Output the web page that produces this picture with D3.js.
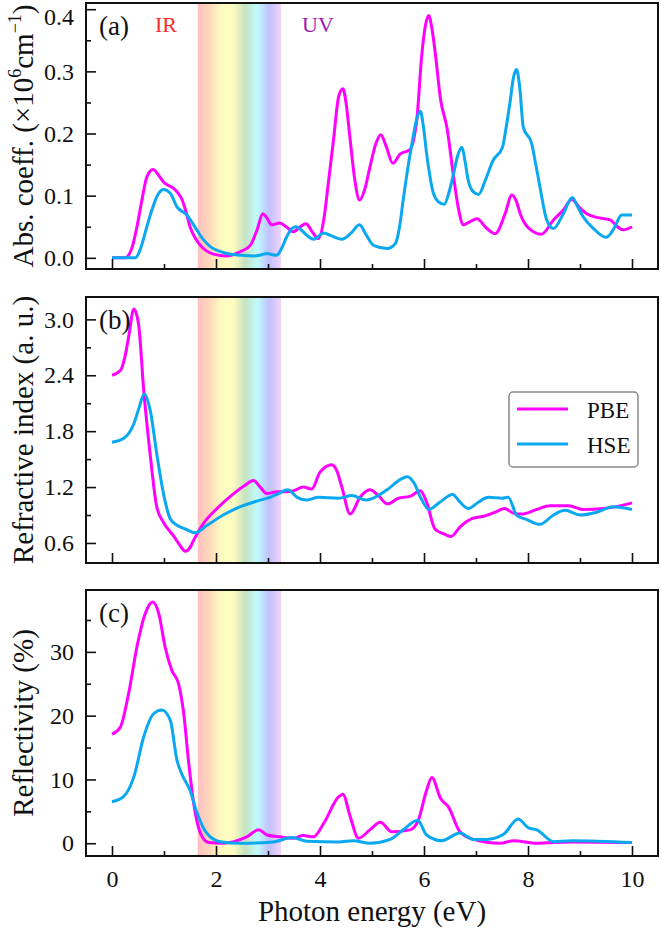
<html>
<head>
<meta charset="utf-8">
<title>Optical spectra</title>
<script src="https://d3js.org/d3.v7.min.js"></script>
<style>
  body { margin: 0; background: #fff; }
  text { font-family: "Liberation Serif", "DejaVu Serif", serif; fill: #111; }
</style>
</head>
<body>
<svg id="chart" width="661" height="934"></svg>
<script>
// x ticks (photon energy, eV)
const xMajor = [0, 2, 4, 6, 8, 10];
const xMinor = [1, 3, 5, 7, 9];

// (a) absorption coefficient, 10^6 cm^-1   [energy, value]
const absPBE = [[0,0],[0.25,0],[0.38,0.015],[0.48,0.05],[0.58,0.095],[0.67,0.13],[0.79,0.142],[0.88,0.135],[0.99,0.122],[1.18,0.112],[1.27,0.104],[1.35,0.093],[1.43,0.072],[1.5,0.05],[1.6,0.032],[1.7,0.02],[1.95,0.006],[2.21,0.003],[2.47,0.01],[2.66,0.02],[2.79,0.045],[2.9,0.071],[2.98,0.064],[3.07,0.053],[3.23,0.056],[3.35,0.05],[3.49,0.042],[3.62,0.05],[3.73,0.055],[3.85,0.042],[3.97,0.031],[4.07,0.06],[4.16,0.12],[4.26,0.19],[4.36,0.26],[4.44,0.272],[4.5,0.25],[4.58,0.19],[4.67,0.125],[4.76,0.093],[4.86,0.11],[4.96,0.146],[5.08,0.185],[5.17,0.198],[5.27,0.18],[5.4,0.152],[5.54,0.167],[5.73,0.174],[5.8,0.19],[5.86,0.221],[5.96,0.329],[6.03,0.375],[6.09,0.39],[6.15,0.37],[6.21,0.334],[6.32,0.254],[6.44,0.21],[6.57,0.13],[6.66,0.08],[6.76,0.053],[6.88,0.058],[7.02,0.063],[7.2,0.048],[7.37,0.039],[7.56,0.071],[7.69,0.101],[7.78,0.09],[7.85,0.071],[8.01,0.048],[8.26,0.038],[8.49,0.061],[8.68,0.077],[8.84,0.094],[9.0,0.08],[9.13,0.071],[9.32,0.065],[9.58,0.061],[9.72,0.05],[9.83,0.045],[10,0.05]];
const absHSE = [[0,0],[0.45,0],[0.55,0.015],[0.67,0.05],[0.78,0.08],[0.86,0.098],[0.99,0.11],[1.12,0.104],[1.25,0.082],[1.44,0.069],[1.63,0.045],[1.75,0.03],[1.89,0.018],[2.05,0.011],[2.21,0.007],[2.5,0.004],[2.72,0.003],[2.88,0.005],[2.98,0.007],[3.08,0.005],[3.17,0.004],[3.26,0.015],[3.36,0.034],[3.46,0.047],[3.54,0.05],[3.65,0.044],[3.75,0.036],[3.88,0.03],[4.07,0.04],[4.2,0.036],[4.42,0.03],[4.6,0.04],[4.76,0.053],[4.88,0.038],[5.03,0.02],[5.29,0.015],[5.45,0.023],[5.53,0.05],[5.6,0.093],[5.7,0.15],[5.77,0.184],[5.85,0.22],[5.93,0.236],[5.99,0.21],[6.05,0.168],[6.18,0.104],[6.28,0.09],[6.39,0.086],[6.48,0.105],[6.57,0.136],[6.65,0.165],[6.73,0.178],[6.79,0.155],[6.85,0.125],[6.95,0.106],[7.05,0.102],[7.18,0.125],[7.33,0.157],[7.51,0.178],[7.58,0.21],[7.66,0.254],[7.72,0.29],[7.78,0.303],[7.84,0.275],[7.91,0.21],[8.07,0.184],[8.15,0.15],[8.23,0.114],[8.36,0.061],[8.49,0.047],[8.68,0.071],[8.85,0.097],[8.95,0.083],[9.06,0.066],[9.26,0.047],[9.5,0.033],[9.6,0.04],[9.67,0.05],[9.8,0.069],[10,0.069]];

// (b) refractive index
const refPBE = [[0,2.4],[0.16,2.45],[0.25,2.6],[0.32,2.81],[0.42,3.11],[0.51,2.95],[0.61,2.24],[0.74,1.52],[0.86,0.99],[0.99,0.82],[1.18,0.68],[1.3,0.58],[1.41,0.51],[1.5,0.55],[1.57,0.63],[1.76,0.81],[2.02,0.97],[2.34,1.13],[2.56,1.22],[2.72,1.27],[2.85,1.2],[2.98,1.13],[3.17,1.15],[3.36,1.15],[3.49,1.16],[3.68,1.2],[3.84,1.18],[4.0,1.36],[4.23,1.44],[4.32,1.38],[4.42,1.2],[4.58,0.91],[4.77,1.09],[4.96,1.17],[5.12,1.11],[5.29,1.02],[5.51,1.08],[5.73,1.1],[5.93,1.16],[6.05,1.04],[6.21,0.75],[6.37,0.7],[6.52,0.67],[6.69,0.77],[6.92,0.86],[7.17,0.89],[7.37,0.93],[7.55,0.97],[7.72,0.92],[7.88,0.91],[8.17,0.96],[8.42,1.0],[8.78,1.0],[9.06,0.96],[9.45,0.97],[9.71,0.99],[10,1.03]];
const refHSE = [[0,1.68],[0.22,1.72],[0.42,1.88],[0.52,2.05],[0.62,2.2],[0.74,2.01],[0.86,1.56],[0.99,1.13],[1.12,0.86],[1.25,0.79],[1.41,0.75],[1.6,0.71],[1.83,0.79],[2.14,0.9],[2.47,0.99],[2.79,1.05],[3.04,1.09],[3.2,1.13],[3.38,1.17],[3.56,1.09],[3.75,1.06],[3.97,1.09],[4.36,1.08],[4.61,1.11],[4.89,1.06],[5.29,1.17],[5.54,1.28],[5.68,1.31],[5.8,1.25],[5.96,1.06],[6.09,0.96],[6.31,1.04],[6.55,1.12],[6.69,1.04],[6.85,0.97],[7.05,1.04],[7.24,1.09],[7.5,1.08],[7.62,1.09],[7.78,0.9],[7.98,0.85],[8.23,0.8],[8.49,0.9],[8.71,0.95],[9.0,0.9],[9.32,0.93],[9.64,0.99],[10,0.96]];

// (c) reflectivity, %
const rflPBE = [[0,17.1],[0.16,18.2],[0.32,23.5],[0.48,30.8],[0.64,36.0],[0.78,37.8],[0.9,36.0],[1.02,30.8],[1.15,27.1],[1.28,25.0],[1.38,20.3],[1.47,13.0],[1.57,6.3],[1.7,1.6],[1.86,0.1],[2.14,0],[2.34,0.25],[2.59,1.0],[2.82,2.1],[2.98,1.3],[3.23,1.0],[3.49,0.8],[3.68,1.2],[3.87,1.0],[4.07,3.1],[4.36,7.3],[4.44,7.7],[4.58,4.2],[4.74,0.8],[4.96,2.1],[5.16,3.3],[5.38,1.8],[5.73,2.1],[5.89,3.6],[6.05,8.3],[6.15,10.3],[6.32,7.0],[6.47,5.7],[6.69,1.8],[6.95,0.6],[7.46,0],[7.72,0.4],[8.17,0],[8.85,0.2],[10,0.1]];
const rflHSE = [[0,6.5],[0.22,7.3],[0.42,10.4],[0.61,16.7],[0.8,20.3],[0.96,20.9],[1.12,19.3],[1.25,13.0],[1.35,10.7],[1.5,8.3],[1.63,4.9],[1.82,1.6],[2.08,0.25],[2.47,0],[3.1,0.2],[3.46,0.9],[3.75,0.3],[4.36,0.2],[4.64,0.4],[4.96,0],[5.35,0.6],[5.6,2.1],[5.88,3.6],[6.05,1.3],[6.34,0.4],[6.69,1.6],[6.95,0.6],[7.2,0.6],[7.53,1.4],[7.81,3.8],[8.01,2.4],[8.17,2.1],[8.49,0.25],[8.85,0.4],[10,0.1]];

// visible band (eV) and its colour stops
const visibleBand = [1.65, 3.25];
const bandColors = ["#ffc0c0", "#ffd8bc", "#fdfcc0", "#fdfcc0", "#c4e2c0", "#c0fcfc", "#c0c0fc", "#f2d4fc"];

const seriesNames = ["PBE", "HSE"];
const seriesColors = ["#ff00ff", "#0aa8f0"];

const panels = [
  { id: "a", top: 3, bottom: 269, domain: [-0.018, 0.41], major: [0, 0.1, 0.2, 0.3, 0.4], minor: [0.05, 0.15, 0.25, 0.35], fmt: d3.format(".1f"), data: [absPBE, absHSE] },
  { id: "b", top: 297, bottom: 563, domain: [0.385, 3.24], major: [0.6, 1.2, 1.8, 2.4, 3.0], minor: [0.9, 1.5, 2.1, 2.7], fmt: d3.format(".1f"), data: [refPBE, refHSE] },
  { id: "c", top: 590, bottom: 856, domain: [-2, 39.7], major: [0, 10, 20, 30], minor: [5, 15, 25, 35], fmt: d3.format("d"), data: [rflPBE, rflHSE] }
];

const left = 86, right = 658;
const svg = d3.select("#chart");
const x = d3.scaleLinear().domain([-0.5, 10.5]).range([left, right]);

// rainbow gradient
const grad = svg.append("defs").append("linearGradient").attr("id", "rainbow")
  .attr("x1", "0%").attr("x2", "100%").attr("y1", "0%").attr("y2", "0%");
grad.selectAll("stop").data(bandColors).join("stop")
  .attr("offset", (d, i) => (i / (bandColors.length - 1) * 100) + "%")
  .attr("stop-color", d => d);

panels.forEach((p, pi) => {
  const y = d3.scaleLinear().domain(p.domain).range([p.bottom, p.top]);
  const g = svg.append("g");

  g.append("clipPath").attr("id", "clip" + p.id).append("rect")
    .attr("x", left).attr("y", p.top).attr("width", right - left).attr("height", p.bottom - p.top);

  // visible band
  g.append("rect")
    .attr("x", x(visibleBand[0])).attr("y", p.top)
    .attr("width", x(visibleBand[1]) - x(visibleBand[0]))
    .attr("height", p.bottom - p.top)
    .attr("fill", "url(#rainbow)");

  // curves
  const line = d3.line().x(d => x(d[0])).y(d => y(d[1])).curve(d3.curveMonotoneX);
  p.data.forEach((s, si) => {
    g.append("path").datum(s)
      .attr("clip-path", `url(#clip${p.id})`)
      .attr("fill", "none")
      .attr("stroke", seriesColors[si])
      .attr("stroke-width", 3)
      .attr("stroke-linejoin", "round")
      .attr("d", line);
  });

  // axes (ticks inward)
  const yAx = g.append("g").attr("transform", `translate(${left},0)`)
    .call(d3.axisLeft(y).tickValues(p.major).tickFormat(p.fmt).tickSize(-10).tickPadding(12));
  g.append("g").attr("transform", `translate(${left},0)`)
    .call(d3.axisLeft(y).tickValues(p.minor).tickFormat("").tickSize(-5));

  // keep the topmost label inside the page
  yAx.selectAll(".tick text").filter(d => y(d) < 14).attr("dy", "0.62em");

  g.append("g").attr("transform", `translate(0,${p.bottom})`)
    .call(d3.axisBottom(x).tickValues(xMajor).tickFormat(pi === 2 ? d3.format("d") : "").tickSize(-10).tickPadding(14));
  g.append("g").attr("transform", `translate(0,${p.bottom})`)
    .call(d3.axisBottom(x).tickValues(xMinor).tickFormat("").tickSize(-5));

  g.selectAll(".domain").remove();
  g.selectAll(".tick line").attr("stroke", "#111").attr("stroke-width", 1.6);
  g.selectAll(".tick text").style("font-family", "Liberation Serif").style("font-size", "24px").attr("fill", "#111");

  // frame
  g.append("rect").attr("x", left).attr("y", p.top)
    .attr("width", right - left).attr("height", p.bottom - p.top)
    .attr("fill", "none").attr("stroke", "#111").attr("stroke-width", 2);

  // panel label
  g.append("text").attr("x", 99).attr("y", p.top + 32)
    .style("font-size", "27px").text(`(${p.id})`);
});

// y-axis titles
function yTitle(panel, parts) {
  const cy = (panel.top + panel.bottom) / 2;
  const t = svg.append("text")
    .attr("transform", `translate(33,${cy}) rotate(-90)`)
    .attr("text-anchor", "middle")
    .style("font-size", "29px");
  parts.forEach(pt => {
    const ts = t.append("tspan").text(pt.t);
    if (pt.sup) ts.style("font-size", "18px").attr("dy", pt.dy);
    else if (pt.dy) ts.attr("dy", pt.dy);
  });
}
yTitle(panels[0], [
  { t: "Abs. coeff. (×10" }, { t: "6", sup: true, dy: -12 },
  { t: "cm", dy: 12 }, { t: "−1", sup: true, dy: -12 }, { t: ")", dy: 12 }
]);
yTitle(panels[1], [{ t: "Refractive index (a. u.)" }]);
yTitle(panels[2], [{ t: "Reflectivity (%)" }]);

// x-axis title
svg.append("text").attr("x", (left + right) / 2).attr("y", 921)
  .attr("text-anchor", "middle").style("font-size", "29px")
  .text("Photon energy (eV)");

// IR / UV labels
svg.append("text").attr("x", 155).attr("y", 32).style("font-size", "22px")
  .style("fill", "#ff2a2a").text("IR");
svg.append("text").attr("x", 302).attr("y", 32).style("font-size", "22px")
  .style("fill", "#9b19b4").text("UV");

// legend in panel (b)
const lg = svg.append("g");
lg.append("rect").attr("x", 509).attr("y", 392).attr("width", 129).attr("height", 75)
  .attr("rx", 4).attr("fill", "#fff").attr("fill-opacity", 0.85)
  .attr("stroke", "#888").attr("stroke-width", 1.5);
seriesNames.forEach((n, i) => {
  const yy = 409 + i * 35;
  lg.append("line").attr("x1", 517).attr("x2", 568).attr("y1", yy).attr("y2", yy)
    .attr("stroke", seriesColors[i]).attr("stroke-width", 3);
  lg.append("text").attr("x", 587).attr("y", yy + 9).style("font-size", "23px").text(n);
});
</script>
</body>
</html>
